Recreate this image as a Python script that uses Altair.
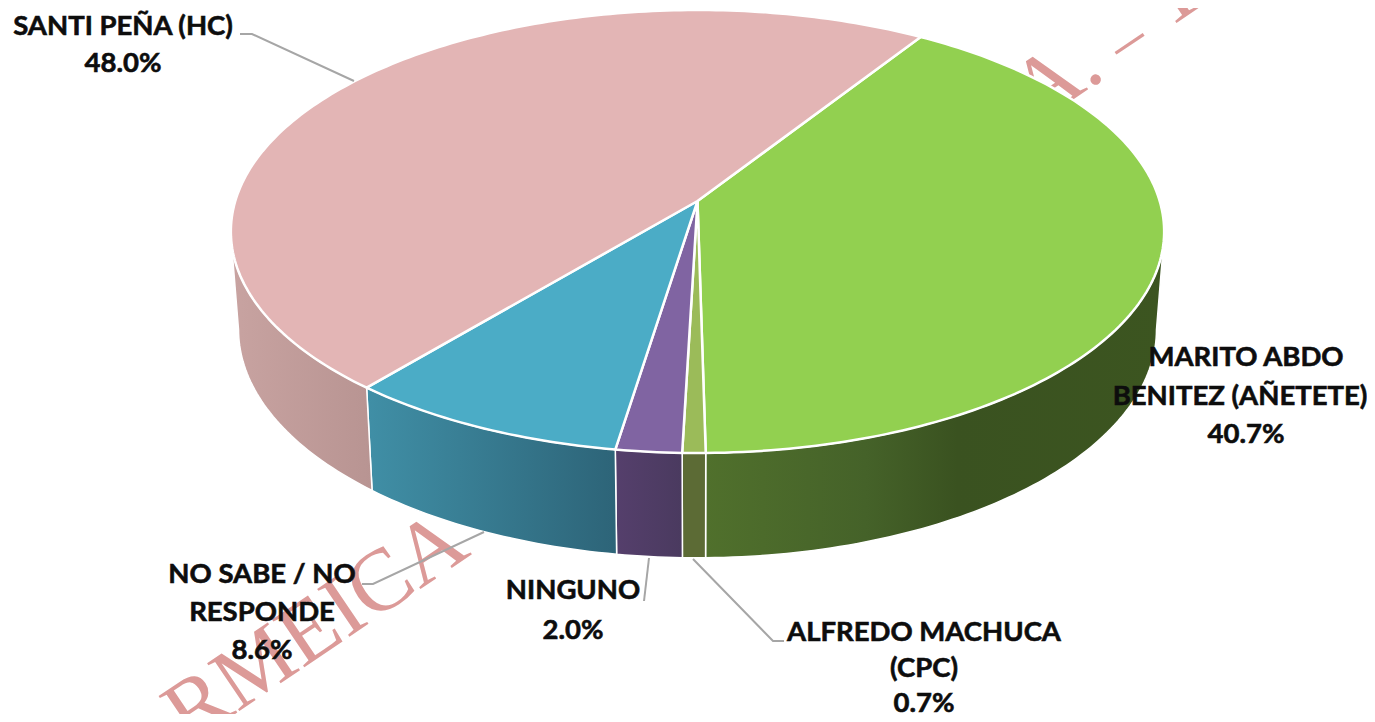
import math
import altair as alt

categories = ["MARITO ABDO BENITEZ (AÑETETE)", "ALFREDO MACHUCA (CPC)", "NINGUNO", "NO SABE / NO RESPONDE", "SANTI PEÑA (HC)"]
values = [40.7, 0.7, 2.0, 8.6, 48.0]
top_colors = ["#92d050", "#9bbb59", "#8064a2", "#4bacc6", "#e3b5b5"]
wall_stops = [
    [("#50702c", 0.0), ("#456229", 0.35), ("#3a5220", 0.55), ("#3c5520", 1.0)],
    [("#5c6b35", 0.0), ("#5c6b35", 1.0)],
    [("#553f6c", 0.0), ("#4a3a5f", 1.0)],
    [("#408fa6", 0.0), ("#2d6478", 1.0)],
    [("#c8a3a1", 0.0), ("#b89492", 1.0)],
]
label_lines = [
    ["MARITO ABDO", "BENITEZ (AÑETETE)"],
    ["ALFREDO MACHUCA", "(CPC)"],
    ["NINGUNO"],
    ["NO SABE / NO", "RESPONDE"],
    ["SANTI PEÑA (HC)"],
]
label_anchor = [
    ([1246, 1240, 1246], [358, 397, 435]),
    ([924, 924, 924], [633, 669, 704]),
    ([573, 573], [591, 631]),
    ([262, 262, 262], [575, 613, 651]),
    ([123, 123], [27, 64]),
]
leaders = [
    [[240, 34], [252, 34], [354, 81]],
    [[362, 584], [373, 584], [484, 532]],
    [[644, 601], [649, 558]],
    [[784, 641], [773, 641], [693, 559]],
]
watermark = [("RMEICA", 316, 628, 88), ("A.", 1057, 79, 88), ("–", 1127, 40, 66), ("T", 1173, -6, 88)]

# view geometry of the tilted disc
CX, K = 697.5, -0.1377
TOP = dict(a=462.2, b=217.3, y0=201)
BOT = dict(a=454.6, b=224.0, y0=298)
START = -57.4


def pt(g, deg):
    r = math.radians(deg)
    d = 1 + K * math.sin(r)
    return [CX + g["a"] * math.cos(r) / d, g["y0"] + g["b"] * math.sin(r) / d]


def arc(g, a, b):
    n = max(2, int(abs(b - a)) + 2)
    return [pt(g, a + (b - a) * i / (n - 1)) for i in range(n)]


edges = [START]
for v in values:
    edges.append(edges[-1] + v * 3.6)


def feature(name, coords, kind="Polygon"):
    return {"type": "Feature", "properties": {"name": name}, "geometry": {"type": kind, "coordinates": coords}}


layers = []

# watermark, behind the pie
for t, x, y, s in watermark:
    layers.append(
        alt.Chart(alt.Data(values=[{"t": t, "x": x, "y": y}]))
        .mark_text(font="Liberation Serif", fontSize=s, color="#dc9a98", angle=326, align="center", baseline="middle")
        .encode(longitude="x:Q", latitude="y:Q", text="t:N")
        .project(type="identity", scale=1, translate=[-8, -8])
    )

# side walls
for i, c in enumerate(categories):
    a, b = edges[i], edges[i + 1]
    ta, tb = max(a, 11), min(b, 169)
    ba, bb = max(a, 8), min(b, 172)
    if tb <= ta:
        continue
    ring = arc(TOP, ta, tb) + arc(BOT, bb, ba)
    ring.append(ring[0])
    grad = alt.LinearGradient(gradient="linear", x1=0, x2=1, y1=0, y2=0,
                              stops=[alt.GradientStop(color=col, offset=o) for col, o in wall_stops[i]])
    layers.append(
        alt.Chart(alt.Data(values={"type": "FeatureCollection", "features": [feature(c, [ring])]},
                           format=alt.DataFormat(property="features", type="json")))
        .mark_geoshape(fill=grad, stroke="white", strokeWidth=1.5, strokeJoin="round")
        .project(type="identity", scale=1, translate=[-8, -8])
    )

# top faces
tops = []
for i, c in enumerate(categories):
    ring = [[CX, TOP["y0"]]] + arc(TOP, edges[i], edges[i + 1])
    ring.append(ring[0])
    tops.append(feature(c, [ring]))
layers.append(
    alt.Chart(alt.Data(values={"type": "FeatureCollection", "features": tops},
                       format=alt.DataFormat(property="features", type="json")))
    .mark_geoshape(stroke="white", strokeWidth=2.5, strokeJoin="round")
    .encode(color=alt.Color("properties.name:N", legend=None,
                            scale=alt.Scale(domain=categories, range=top_colors)))
    .project(type="identity", scale=1, translate=[-8, -8])
)

# leader lines
lines = [feature(str(i), l, "LineString") for i, l in enumerate(leaders)]
layers.append(
    alt.Chart(alt.Data(values={"type": "FeatureCollection", "features": lines},
                       format=alt.DataFormat(property="features", type="json")))
    .mark_geoshape(filled=False, stroke="#a6a6a6", strokeWidth=2)
    .project(type="identity", scale=1, translate=[-8, -8])
)

# labels
rows = []
for i, c in enumerate(categories):
    xs, ys = label_anchor[i]
    texts = label_lines[i] + [f"{values[i]:.1f}%"]
    for t, x, y in zip(texts, xs, ys):
        rows.append({"t": t, "x": x, "y": y})
layers.append(
    alt.Chart(alt.Data(values=rows))
    .mark_text(font="Lato", fontWeight="bold", fontSize=27.5, color="#0d0d0d", stroke="#0d0d0d", strokeWidth=0.6,
               align="center", baseline="middle")
    .encode(longitude="x:Q", latitude="y:Q", text="t:N")
    .project(type="identity", scale=1, translate=[-8, -8])
)

chart = alt.layer(*layers).properties(
    width=1359, height=706, padding=0,
    autosize=alt.AutoSizeParams(type="none"),
).configure_view(stroke=None)

chart.save("out.html", embed_options={"renderer": "svg", "actions": False})
